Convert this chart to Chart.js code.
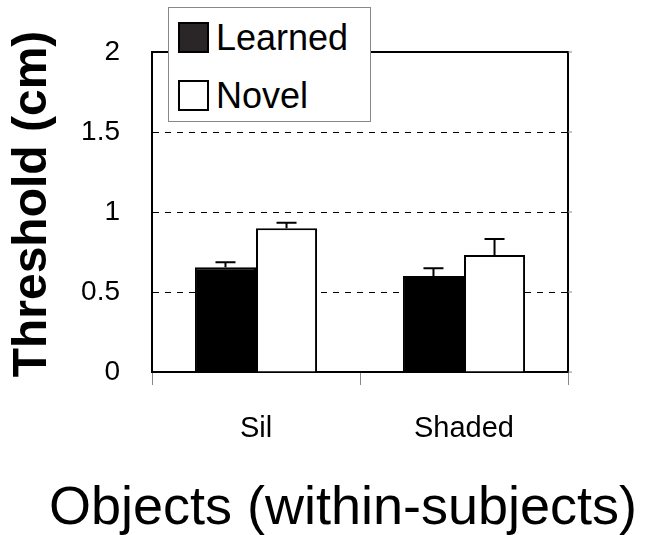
<!DOCTYPE html>
<html>
<head>
<meta charset="utf-8">
<script src="https://cdn.jsdelivr.net/npm/chart.js@4.4.1/dist/chart.umd.min.js"></script>
<style>
  body { margin: 0; background: #fff; }
  #wrap { position: relative; width: 653px; height: 535px; }
  #legend {
    position: absolute; left: 168px; top: 7px; width: 201px; height: 113px;
    border: 1px solid #888; background: #fff;
    font-family: "Liberation Sans", Arial, sans-serif; font-size: 36px; color: #000;
  }
  .item { position: absolute; left: 9px; height: 31px; line-height: 31px; }
  .swatch { display: inline-block; width: 27px; height: 27px; border: 2px solid #000; vertical-align: top; margin-right: 7px; }
</style>
</head>
<body>
<div id="wrap">
  <canvas id="chart" width="653" height="535"></canvas>
  <div id="legend"></div>
</div>
<script>
const categories = ["Sil", "Shaded"];
const learned = [0.654, 0.600];
const learnedErr = [0.032, 0.048];
const novel = [0.898, 0.731];
const novelErr = [0.035, 0.100];
const yTicks = [0, 0.5, 1, 1.5, 2];
const yTickLabels = ["0", "0.5", "1", "1.5", "2"];

const fontFamily = '"Liberation Sans", Arial, sans-serif';

// error bars (upper only) drawn over the bars
const errorBars = {
  id: "errorBars",
  afterDatasetsDraw(chart) {
    const ctx = chart.ctx;
    const y = chart.scales.y;
    ctx.save();
    ctx.strokeStyle = "#000";
    ctx.lineWidth = 2;
    chart.data.datasets.forEach((ds, i) => {
      const meta = chart.getDatasetMeta(i);
      meta.data.forEach((bar, j) => {
        const top = y.getPixelForValue(ds.data[j] + ds.errors[j]);
        ctx.beginPath();
        ctx.moveTo(bar.x, bar.y);
        ctx.lineTo(bar.x, top);
        ctx.moveTo(bar.x - 10, top);
        ctx.lineTo(bar.x + 10, top);
        ctx.stroke();
      });
    });
    ctx.restore();
  }
};

// box frame + axis titles
const frame = {
  id: "frame",
  afterDraw(chart) {
    const ctx = chart.ctx;
    const a = chart.chartArea;
    ctx.save();
    ctx.strokeStyle = "#000";
    ctx.lineWidth = 2;
    ctx.beginPath();
    ctx.moveTo(a.left, a.top);
    ctx.lineTo(a.right, a.top);
    ctx.lineTo(a.right, a.bottom);
    ctx.stroke();

    // small outer ticks on the right side
    ctx.strokeStyle = "#888";
    ctx.lineWidth = 1;
    yTicks.forEach(v => {
      const py = chart.scales.y.getPixelForValue(v);
      ctx.beginPath();
      ctx.moveTo(a.right, py);
      ctx.lineTo(a.right + 4, py);
      ctx.stroke();
    });

    ctx.fillStyle = "#000";
    ctx.textAlign = "center";
    ctx.textBaseline = "middle";
    ctx.font = "54px " + fontFamily;
    ctx.fillText("Objects (within-subjects)", 343, 509);

    ctx.translate(33, 204);
    ctx.rotate(-Math.PI / 2);
    ctx.font = "bold 48px " + fontFamily;
    ctx.fillText("Threshold (cm)", 0, 0);
    ctx.restore();
  }
};

const chart = new Chart(document.getElementById("chart"), {
  type: "bar",
  data: {
    labels: categories,
    datasets: [
      { label: "Learned", data: learned, errors: learnedErr, backgroundColor: "#000", borderColor: "#000", borderWidth: 2, swatch: "#2a2627" },
      { label: "Novel", data: novel, errors: novelErr, backgroundColor: "#fff", borderColor: "#000", borderWidth: 2, swatch: "#fff" }
    ]
  },
  options: {
    responsive: false,
    animation: false,
    layout: { padding: { top: 52, right: 85, left: 0, bottom: 0 } },
    datasets: { bar: { categoryPercentage: 0.587, barPercentage: 1 } },
    plugins: { legend: { display: false }, tooltip: { enabled: false } },
    scales: {
      x: {
        afterFit(scale) { scale.height = 163; },
        grid: { offset: true, drawOnChartArea: false, drawTicks: true, tickLength: 13, color: "#888" },
        border: { color: "#000", width: 2 },
        ticks: { color: "#000", padding: 27, font: { family: fontFamily, size: 29 } }
      },
      y: {
        min: 0, max: 2,
        afterFit(scale) { scale.width = 152; },
        afterBuildTicks(scale) { scale.ticks = yTicks.map(v => ({ value: v })); },
        grid: {
          drawTicks: false,
          lineWidth: 1,
          color: c => (c.tick && c.tick.value > 0 && c.tick.value < 2) ? "#000" : "rgba(0,0,0,0)"
        },
        border: { color: "#000", width: 2, dash: [6, 6] },
        ticks: {
          color: "#000", padding: 32, font: { family: fontFamily, size: 28 },
          callback: (v, i) => yTickLabels[i]
        }
      }
    }
  },
  plugins: [errorBars, frame]
});

// html legend from the dataset labels
const legend = document.getElementById("legend");
chart.data.datasets.forEach((ds, i) => {
  const item = document.createElement("div");
  item.className = "item";
  item.style.top = (i === 0 ? 14 : 72) + "px";
  item.innerHTML = '<span class="swatch" style="background:' + ds.swatch + '"></span>' + ds.label;
  legend.appendChild(item);
});
</script>
</body>
</html>
